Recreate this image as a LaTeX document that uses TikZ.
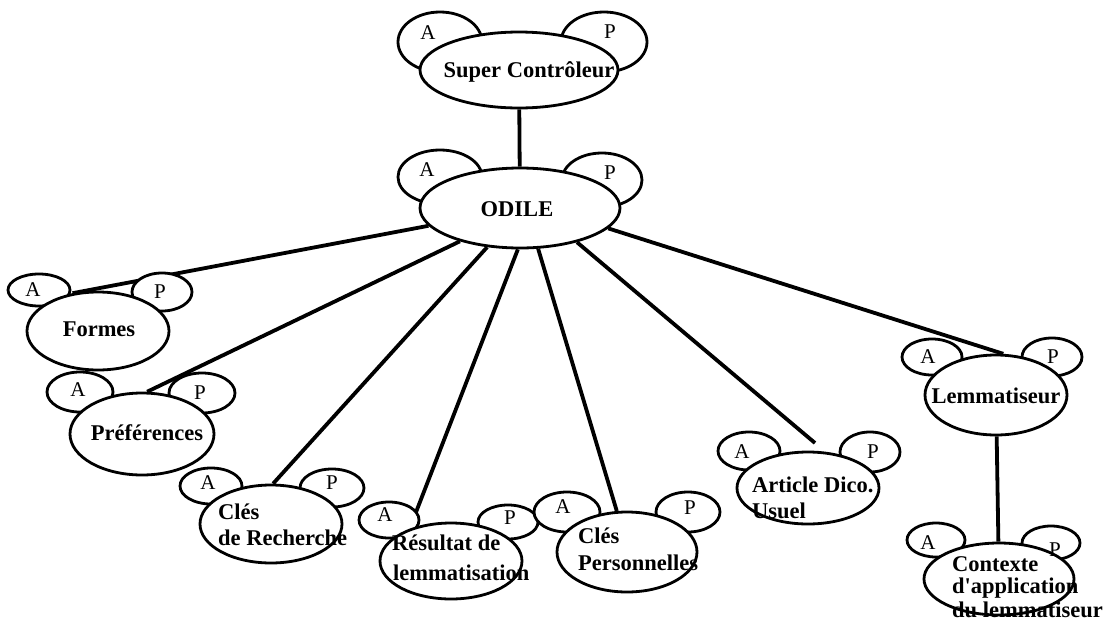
\documentclass[tikz,border=0pt]{standalone}
\usepackage{fontspec}
\setmainfont{Liberation Serif}[Ligatures=TeXOff]
\usetikzlibrary{shapes.geometric}
\pgfdeclarelayer{bg}
\pgfsetlayers{bg,main}
\tikzset{
  mainell/.style={ellipse, draw, line width=2.8pt, fill=white, inner sep=0pt},
  earell/.style={ellipse, draw, line width=2.8pt, fill=white, inner sep=0pt},
  wire/.style={line width=3.8pt},
  lbl/.style={font=\bfseries\fontsize{22.5}{26}\selectfont, inner sep=0pt},
  letter/.style={font=\fontsize{21}{24}\selectfont, inner sep=0pt}
}
% \ellnode{style}{name}{cx}{cy}{width}{height}
\newcommand{\ellnode}[6]{%
  \node[#1, minimum width=#5pt, minimum height=#6pt] (#2) at (#3,#4) {};}
\begin{document}
\begin{tikzpicture}[x=1pt, y=-1pt]
\useasboundingbox (0,0) rectangle (1104,627);

% ---- ears (drawn first, partly covered by the bodies) ----
\ellnode{earell}{superA}{440}{42}{84}{60}
\ellnode{earell}{superP}{604}{42}{86}{60}
\ellnode{earell}{odileA}{440}{177}{84}{54}
\ellnode{earell}{odileP}{602}{180}{80}{54}
\ellnode{earell}{formesA}{39}{290}{62}{32}
\ellnode{earell}{formesP}{162}{292}{60}{38}
\ellnode{earell}{prefA}{80}{392}{66}{40}
\ellnode{earell}{prefP}{202}{393}{66}{40}
\ellnode{earell}{clesrA}{211}{486}{62}{36}
\ellnode{earell}{clesrP}{332}{488}{64}{38}
\ellnode{earell}{resultA}{389}{520}{60}{36}
\ellnode{earell}{resultP}{508}{522}{60}{34}
\ellnode{earell}{clespA}{567}{512}{66}{40}
\ellnode{earell}{clespP}{688}{512}{64}{40}
\ellnode{earell}{articleA}{749}{451}{62}{38}
\ellnode{earell}{articleP}{870}{452}{60}{40}
\ellnode{earell}{lemmA}{932}{357}{60}{36}
\ellnode{earell}{lemmP}{1052}{357}{60}{38}
\ellnode{earell}{contexteA}{936}{540}{58}{34}
\ellnode{earell}{contexteP}{1051}{543}{58}{34}

% ---- bodies ----
\ellnode{mainell}{super}{519}{70}{198}{76}
\ellnode{mainell}{odile}{520}{208}{200}{80}
\ellnode{mainell}{formes}{98}{331}{142}{78}
\ellnode{mainell}{pref}{142}{434}{144}{82}
\ellnode{mainell}{clesr}{271}{524}{142}{78}
\ellnode{mainell}{result}{451}{561}{142}{76}
\ellnode{mainell}{clesp}{627}{552}{140}{80}
\ellnode{mainell}{article}{808}{488}{142}{72}
\ellnode{mainell}{lemm}{996}{395}{142}{80}
\ellnode{mainell}{contexte}{999}{579}{150}{72}

% ---- ear letters ----
\foreach \n/\t/\x/\y in {sA/A/428/33, sP/P/610/32, oA/A/427/170, oP/P/610/173,
    fA/A/33/290, fP/P/160/292, pA/A/78/390, pP/P/200/393,
    crA/A/208/483, crP/P/332/483, rA/A/385/515, rP/P/510/518,
    cpA/A/563/507, cpP/P/690/508, aA/A/742/452, aP/P/873/452,
    lA/A/928/357, lP/P/1053/357, cA/A/928/543, cP/P/1055/550}
  \node[letter] (let\n) at (\x,\y) {\t};

% ---- body texts ----
\node[lbl, anchor=base] (tsuper) at (529,77) {Super Contrôleur};
\node[lbl, anchor=base] (todile) at (517,216) {ODILE};
\node[lbl, anchor=base] (tformes) at (99,336) {Formes};
\node[lbl, anchor=base] (tpref) at (147,440) {Préférences};
\node[lbl, anchor=base] (tlemm) at (996,403) {Lemmatiseur};
\node[lbl, anchor=base west] (tclesr1) at (218,519) {Clés};
\node[lbl, anchor=base west] (tclesr2) at (218,545) {de Recherche};
\node[lbl, anchor=base west] (tresult1) at (392,550) {Résultat de};
\node[lbl, anchor=base west] (tresult2) at (393,580) {lemmatisation};
\node[lbl, anchor=base west] (tclesp1) at (578,543) {Clés};
\node[lbl, anchor=base west] (tclesp2) at (578,570) {Personnelles};
\node[lbl, anchor=base west] (tarticle1) at (752,492) {Article Dico.};
\node[lbl, anchor=base west] (tarticle2) at (752,518) {Usuel};
\node[lbl, anchor=base west] (tcontexte1) at (952,571) {Contexte};
\node[lbl, anchor=base west] (tcontexte2) at (952,593) {d'application};
\node[lbl, anchor=base west] (tcontexte3) at (952,617) {du lemmatiseur};

% ---- connectors, behind the white-filled shapes ----
\coordinate (articlewire) at (815,443);
\begin{pgfonlayer}{bg}
  \draw[wire] (super) -- (odile);
  \draw[wire] (odile.191) -- (formes.124);
  \draw[wire] (odile.209) -- (pref.83);
  \draw[wire] (odile.230) -- (clesr.87);
  \draw[wire] (odile.267) -- (result.142);
  \draw[wire] (odile.294) -- (clesp.104);
  \draw[wire] (odile.329) -- (articlewire);
  \draw[wire] (odile.347) -- (lemm.80);
  \draw[wire] (lemm) -- (contexte);
\end{pgfonlayer}
\end{tikzpicture}
\end{document}
